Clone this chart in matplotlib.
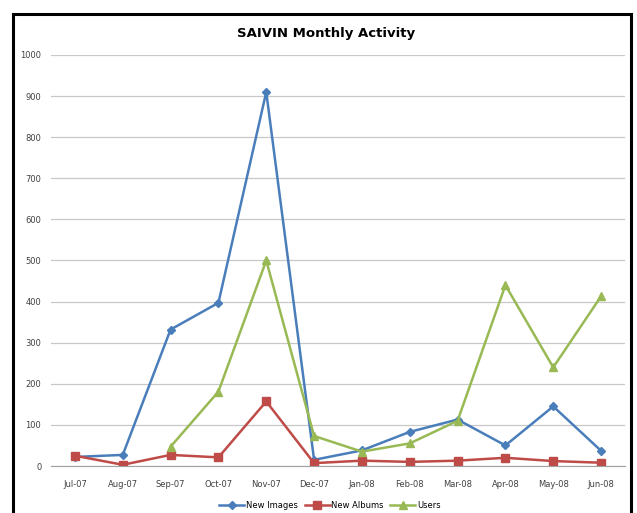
import matplotlib
matplotlib.use("Agg")
import matplotlib.pyplot as plt
from matplotlib.patches import Rectangle
import numpy as np

months = ["Jul-07", "Aug-07", "Sep-07", "Oct-07", "Nov-07", "Dec-07",
          "Jan-08", "Feb-08", "Mar-08", "Apr-08", "May-08", "Jun-08"]
new_images = [22, 27, 332, 397, 910, 15, 38, 83, 113, 50, 145, 37]
new_albums = [25, 3, 27, 21, 157, 7, 13, 10, 13, 20, 12, 8]
users = [np.nan, np.nan, 47, 181, 500, 73, 35, 55, 110, 440, 240, 413]

plt.rcParams['font.family'] = ['Liberation Sans Narrow', 'DejaVu Sans']

fig = plt.figure(figsize=(6.37, 5.13), dpi=100)
W, H = 637, 513

# outer chart border
fig.patches.append(Rectangle((13 / W, -0.05), (631 - 13) / W, (513 - 14) / H + 0.05,
                             transform=fig.transFigure, fill=False,
                             edgecolor='black', linewidth=2.2))

ax = fig.add_axes([51 / W, (513 - 466) / H, (625 - 51) / W, (466 - 55) / H])
x = np.arange(len(months))

ax.plot(x, new_images, color='#4A7EBB', marker='D', markersize=4, linewidth=1.8, label='New Images')
ax.plot(x, new_albums, color='#BE4B48', marker='s', markersize=5.5, linewidth=1.8, label='New Albums')
ax.plot(x, users, color='#98B954', marker='^', markersize=5.5, linewidth=1.8, label='Users')

ax.set_xlim(-0.5, 11.5)
ax.set_ylim(0, 1000)
ax.set_yticks(range(0, 1001, 100))
ax.set_xticks(x)
ax.set_xticklabels(months)
ax.tick_params(axis='both', labelsize=6, colors='#404040', length=0)
ax.tick_params(axis='x', pad=10)
ax.tick_params(axis='y', pad=7)
ax.grid(axis='y', color='#c8c8c8', linewidth=0.9)
ax.set_axisbelow(True)
for s in ['left', 'right', 'top']:
    ax.spines[s].set_visible(False)
ax.spines['bottom'].set_color('#a0a0a0')

fig.text(326 / W, 1 - 33 / H, "SAIVIN Monthly Activity", ha='center', va='center',
         fontsize=9.5, fontweight='bold')

fig.legend(loc='center', bbox_to_anchor=(330 / W, 1 - 505 / H), ncol=3, frameon=False,
           fontsize=6, handlelength=3, columnspacing=0.8, handletextpad=0.2)

fig.savefig("out.png", dpi=100)
